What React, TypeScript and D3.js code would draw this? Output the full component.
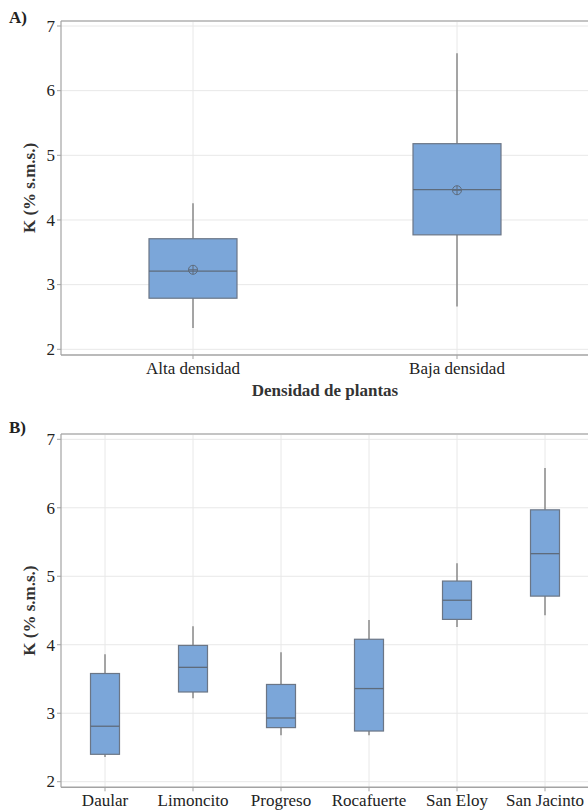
import React from "react";
import * as d3 from "d3";

const yTicks = [2, 3, 4, 5, 6, 7];

const densityCats = ["Alta densidad", "Baja densidad"];
const densityMin = [2.33, 2.66];
const densityQ1 = [2.79, 3.77];
const densityMedian = [3.21, 4.47];
const densityQ3 = [3.71, 5.18];
const densityMax = [4.26, 6.58];
const densityMean = [3.23, 4.46];

const siteCats = ["Daular", "Limoncito", "Progreso", "Rocafuerte", "San Eloy", "San Jacinto"];
const siteMin = [2.36, 3.22, 2.68, 2.68, 4.26, 4.43];
const siteQ1 = [2.4, 3.31, 2.79, 2.74, 4.37, 4.71];
const siteMedian = [2.81, 3.67, 2.93, 3.36, 4.65, 5.33];
const siteQ3 = [3.58, 3.99, 3.42, 4.08, 4.93, 5.97];
const siteMax = [3.86, 4.27, 3.89, 4.36, 5.19, 6.58];

const FONT = "'Liberation Serif', 'Times New Roman', serif";
const FILL = "#7ba6d9";
const BOX_STROKE = "#6b7686";
const WHISK = "#707070";
const GRID = "#e8e8e8";
const AXIS = "#a3a3a3";

type PanelProps = {
  label: string;
  cats: string[];
  mins: number[];
  q1: number[];
  med: number[];
  q3: number[];
  maxs: number[];
  means?: number[];
  frameTop: number;
  yTop: number;
  yBottom: number;
  axisY: number;
  boxW: number;
  xTitle?: string;
  labelY: number;
};

function Panel(p: PanelProps) {
  const left = 61;
  const right = 589;
  const x = d3.scalePoint<string>().domain(p.cats).range([left, right]).padding(0.5);
  const y = d3.scaleLinear().domain([2, 7]).range([p.yBottom, p.yTop]);
  const mid = (p.frameTop + p.axisY) / 2;
  return (
    <g>
      <text x={9} y={p.labelY} fontFamily={FONT} fontWeight="bold" fontSize={17} fill="#222">
        {p.label}
      </text>
      {/* horizontal grid */}
      {yTicks.map((t) => (
        <line key={"h" + t} x1={left} x2={right} y1={y(t)} y2={y(t)} stroke={GRID} strokeWidth={1} />
      ))}
      {/* vertical grid */}
      {p.cats.map((c) => (
        <line key={"v" + c} x1={x(c)} x2={x(c)} y1={p.frameTop} y2={p.axisY} stroke={GRID} strokeWidth={1} />
      ))}
      {/* frame */}
      <line x1={left} x2={right} y1={p.frameTop} y2={p.frameTop} stroke="#c4c4c4" strokeWidth={2} />
      <line x1={left} x2={left} y1={p.frameTop} y2={p.axisY} stroke={AXIS} strokeWidth={1.2} />
      <line x1={left} x2={right} y1={p.axisY} y2={p.axisY} stroke={AXIS} strokeWidth={1.5} />
      {/* y ticks */}
      {yTicks.map((t) => (
        <g key={"yt" + t}>
          <line x1={left - 4} x2={left} y1={y(t)} y2={y(t)} stroke={AXIS} />
          <text x={left - 6} y={y(t)} dy="0.34em" textAnchor="end" fontFamily={FONT} fontSize={17} fill="#222">
            {t}
          </text>
        </g>
      ))}
      {/* x ticks */}
      {p.cats.map((c) => (
        <g key={"xt" + c}>
          <line x1={x(c)} x2={x(c)} y1={p.axisY} y2={p.axisY + 4} stroke={AXIS} />
          <text x={x(c)} y={p.axisY + 19} textAnchor="middle" fontFamily={FONT} fontSize={17} fill="#222">
            {c}
          </text>
        </g>
      ))}
      {/* boxes */}
      {p.cats.map((c, i) => {
        const cx = x(c) as number;
        return (
          <g key={"b" + c}>
            <line x1={cx} x2={cx} y1={y(p.maxs[i])} y2={y(p.q3[i])} stroke={WHISK} strokeWidth={1.2} />
            <line x1={cx} x2={cx} y1={y(p.q1[i])} y2={y(p.mins[i])} stroke={WHISK} strokeWidth={1.2} />
            <rect
              x={cx - p.boxW / 2}
              y={y(p.q3[i])}
              width={p.boxW}
              height={y(p.q1[i]) - y(p.q3[i])}
              fill={FILL}
              stroke={BOX_STROKE}
              strokeWidth={1.2}
            />
            <line x1={cx - p.boxW / 2} x2={cx + p.boxW / 2} y1={y(p.med[i])} y2={y(p.med[i])} stroke="#5e6b7b" strokeWidth={1.3} />
            {p.means && (
              <g>
                <circle cx={cx} cy={y(p.means[i])} r={4.5} fill="none" stroke="#5e6b7b" strokeWidth={1} />
                <line x1={cx - 4.5} x2={cx + 4.5} y1={y(p.means[i])} y2={y(p.means[i])} stroke="#5e6b7b" strokeWidth={1} />
                <line x1={cx} x2={cx} y1={y(p.means[i]) - 4.5} y2={y(p.means[i]) + 4.5} stroke="#5e6b7b" strokeWidth={1} />
              </g>
            )}
          </g>
        );
      })}
      {/* y title */}
      <text
        transform={`translate(35,${mid}) rotate(-90)`}
        textAnchor="middle"
        fontFamily={FONT}
        fontWeight="bold"
        fontSize={17}
        fill="#333"
      >
        K (% s.m.s.)
      </text>
      {p.xTitle && (
        <text x={(left + right) / 2} y={p.axisY + 41} textAnchor="middle" fontFamily={FONT} fontWeight="bold" fontSize={17} fill="#333">
          {p.xTitle}
        </text>
      )}
    </g>
  );
}

export default function App() {
  return (
    <svg width={588} height={811} style={{ position: "absolute", left: 0, top: 0, background: "#fff" }}>
      <rect width={588} height={811} fill="#fff" />
      <Panel
        label="A)"
        cats={densityCats}
        mins={densityMin}
        q1={densityQ1}
        med={densityMedian}
        q3={densityQ3}
        maxs={densityMax}
        means={densityMean}
        frameTop={21}
        yTop={26}
        yBottom={349.3}
        axisY={355}
        boxW={88}
        xTitle="Densidad de plantas"
        labelY={22.7}
      />
      <Panel
        label="B)"
        cats={siteCats}
        mins={siteMin}
        q1={siteQ1}
        med={siteMedian}
        q3={siteQ3}
        maxs={siteMax}
        frameTop={434}
        yTop={439.3}
        yBottom={781.7}
        axisY={787.3}
        boxW={29}
        labelY={432.7}
      />
    </svg>
  );
}
